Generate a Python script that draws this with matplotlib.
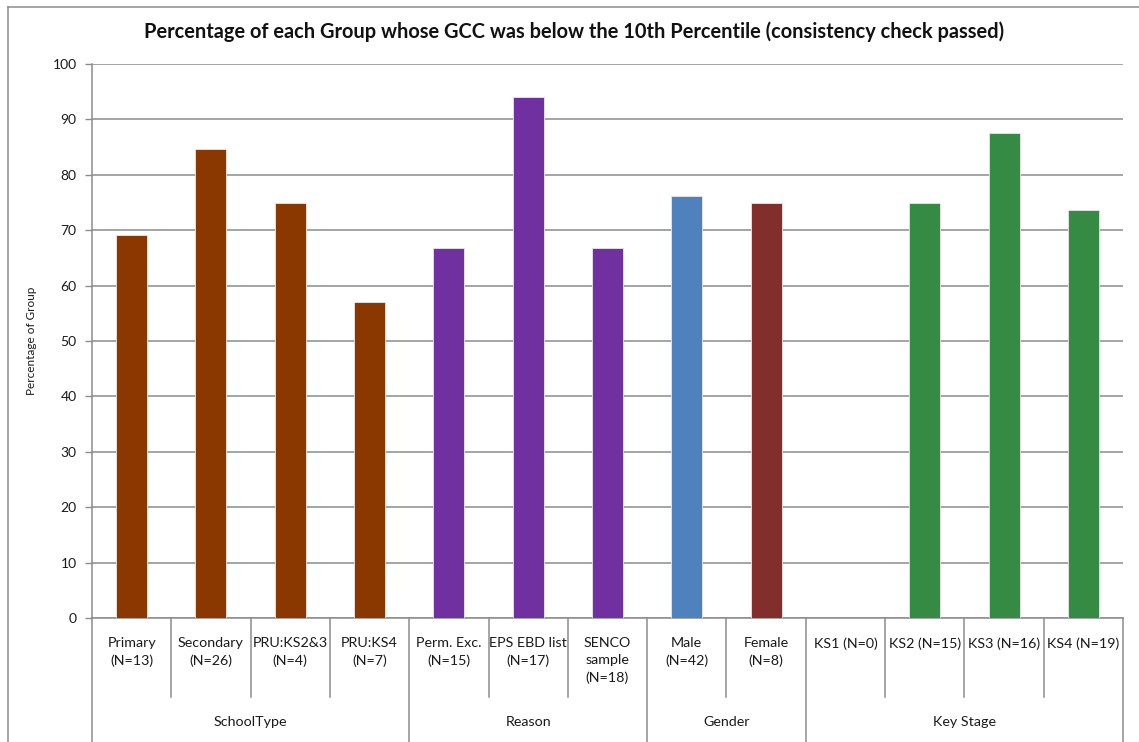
import matplotlib
matplotlib.use("Agg")
import matplotlib.pyplot as plt
import matplotlib.transforms as mtransforms
from matplotlib.lines import Line2D
import numpy as np

plt.rcParams['font.family'] = ['Lato', 'DejaVu Sans']

# ---- data ----
categories = ["Primary\n(N=13)", "Secondary\n(N=26)", "PRU:KS2&3\n(N=4)", "PRU:KS4\n(N=7)",
              "Perm. Exc.\n(N=15)", "EPS EBD list\n(N=17)", "SENCO\nsample\n(N=18)",
              "Male\n(N=42)", "Female\n(N=8)",
              "KS1 (N=0)", "KS2 (N=15)", "KS3 (N=16)", "KS4 (N=19)"]
values = [69.2, 84.6, 75.0, 57.1,
          66.7, 94.1, 66.7,
          76.2, 75.0,
          0.0, 75.0, 87.5, 73.7]
groups = ["SchoolType", "Reason", "Gender", "Key Stage"]
group_sizes = [4, 3, 2, 4]
bar_colors = ["#8B3800"] * 4 + ["#7030A0"] * 3 + ["#4F81BD", "#822E2C"] + ["#358B43"] * 4

title = "Percentage of each Group whose GCC was below the 10th Percentile (consistency check passed)"
y_label = "Percentage of Group"

# ---- figure ----
W, H = 1139, 742
fig = plt.figure(figsize=(W / 100, H / 100), dpi=100)
fig.patch.set_facecolor("white")

px0, px1 = 92, 1123
py0, py1 = 618, 64
ax = fig.add_axes([px0 / W, 1 - py0 / H, (px1 - px0) / W, (py0 - py1) / H])

x = np.arange(len(categories))
ax.bar(x, values, width=0.39, color=bar_colors, edgecolor="#E8E8E8", linewidth=0.6, zorder=3)

ax.set_xlim(-0.5, len(categories) - 0.5)
ax.set_ylim(0, 100)
ax.set_yticks(np.arange(0, 101, 10))
ax.yaxis.grid(True, color="#8C8C8C", linewidth=1.1, zorder=0)
ax.set_axisbelow(True)
ax.tick_params(axis="y", direction="out", length=5, width=1.0, color="#8C8C8C",
               labelsize=10, pad=6, labelcolor="#1A1A1A")
ax.tick_params(axis="x", bottom=False, labelbottom=False)
for side in ["top", "right"]:
    ax.spines[side].set_visible(False)
for side in ["left", "bottom"]:
    ax.spines[side].set_color("#8C8C8C")
    ax.spines[side].set_linewidth(1.1)

# ---- multi-level category axis ----
trans = mtransforms.blended_transform_factory(ax.transData, ax.transAxes)
axis_h = py0 - py1
inner_bottom = -(697 - py0) / axis_h
outer_bottom = -(760 - py0) / axis_h
label_top = -(637 - py0) / axis_h
group_y = -(722 - py0) / axis_h

for i, lab in enumerate(categories):
    ax.text(i, label_top, lab, transform=trans, ha="center", va="top",
            fontsize=10.3, linespacing=1.5, color="#1A1A1A")

edges = np.cumsum([0] + group_sizes) - 0.5
for b in np.arange(-0.5, len(categories) + 0.5, 1.0):
    bottom = outer_bottom if np.any(np.isclose(edges, b)) else inner_bottom
    ax.add_line(Line2D([b, b], [0, bottom], transform=trans, color="#8C8C8C",
                       linewidth=1.1, clip_on=False))

for g, start, n in zip(groups, edges[:-1], group_sizes):
    ax.text(start + n / 2, group_y, g, transform=trans, ha="center", va="center",
            fontsize=10.3, color="#1A1A1A")

# ---- axis title and chart title ----
ax.set_ylabel(y_label, fontsize=8.5, color="#1A1A1A")
ax.yaxis.set_label_coords((37 - px0) / (px1 - px0), 0.5)
fig.text(574 / W, 1 - 32 / H, title, ha="center", va="center",
         fontsize=14.4, fontweight="bold", color="#111111")

# chart area border
fig.add_artist(Line2D([8 / W, 8 / W], [-0.1, 1 - 7 / H], transform=fig.transFigure,
                      color="#8C8C8C", linewidth=1.1))
fig.add_artist(Line2D([8 / W, 1.1], [1 - 7 / H, 1 - 7 / H], transform=fig.transFigure,
                      color="#8C8C8C", linewidth=1.1))

fig.savefig("out.png", dpi=100, facecolor="white")
